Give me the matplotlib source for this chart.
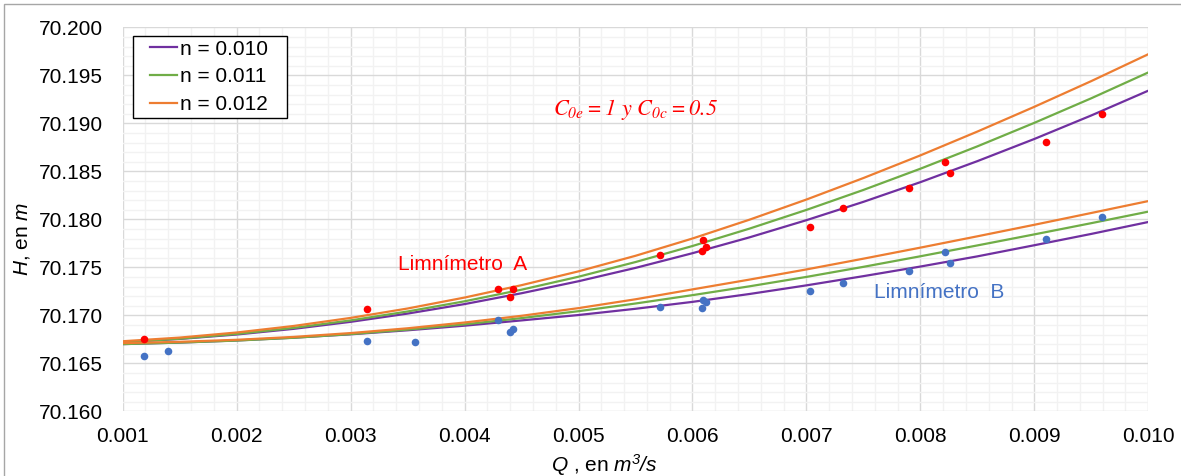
import matplotlib
matplotlib.use("Agg")
import matplotlib.pyplot as plt
from matplotlib.patches import Rectangle
import numpy as np

plt.rcParams['font.family'] = ['Liberation Sans', 'DejaVu Sans']
plt.rcParams['mathtext.fontset'] = 'custom'
plt.rcParams['mathtext.it'] = 'STIXGeneral:italic'
plt.rcParams['mathtext.rm'] = 'STIXGeneral:italic'
plt.rcParams['mathtext.sf'] = 'Liberation Sans:italic'

# caudal Q (m3/s) donde se leen las curvas teoricas
q_curve = [0.0010, 0.0015, 0.0020, 0.0025, 0.0030, 0.0035, 0.0040, 0.0045, 0.0050, 0.0055,
           0.0060, 0.0065, 0.0070, 0.0075, 0.0080, 0.0085, 0.0090, 0.0095, 0.0100]

# Limnimetro A (curvas superiores)
h_a_010 = [70.16720, 70.16754, 70.16800, 70.16859, 70.16932, 70.17018, 70.17117, 70.17230, 70.17355, 70.17494,
           70.17647, 70.17812, 70.17991, 70.18182, 70.18387, 70.18606, 70.18837, 70.19082, 70.19340]
h_a_011 = [70.16720, 70.16756, 70.16806, 70.16869, 70.16947, 70.17040, 70.17146, 70.17267, 70.17402, 70.17555,
           70.17722, 70.17903, 70.18098, 70.18306, 70.18527, 70.18760, 70.19005, 70.19261, 70.19530]
h_a_012 = [70.16730, 70.16768, 70.16821, 70.16889, 70.16973, 70.17071, 70.17185, 70.17314, 70.17458, 70.17620,
           70.17800, 70.17996, 70.18206, 70.18430, 70.18666, 70.18914, 70.19172, 70.19440, 70.19720]

# Limnimetro B (curvas inferiores)
h_b_010 = [70.16700, 70.16716, 70.16738, 70.16767, 70.16802, 70.16844, 70.16892, 70.16947, 70.17003, 70.17068,
           70.17140, 70.17222, 70.17312, 70.17408, 70.17508, 70.17614, 70.17730, 70.17848, 70.17972]
h_b_011 = [70.16700, 70.16716, 70.16737, 70.16766, 70.16804, 70.16851, 70.16906, 70.16971, 70.17043, 70.17123,
           70.17210, 70.17302, 70.17400, 70.17505, 70.17615, 70.17728, 70.17843, 70.17960, 70.18080]
h_b_012 = [70.16710, 70.16724, 70.16745, 70.16775, 70.16815, 70.16865, 70.16925, 70.16995, 70.17075, 70.17167,
           70.17270, 70.17372, 70.17478, 70.17590, 70.17705, 70.17823, 70.17943, 70.18066, 70.18190]

# puntos medidos
q_a = [0.001189, 0.003143, 0.004295, 0.004395, 0.004421, 0.005719, 0.006090, 0.006082, 0.006119,
       0.007032, 0.007325, 0.007904, 0.008216, 0.008260, 0.009099, 0.009596]
h_a = [70.16750, 70.17063, 70.17274, 70.17191, 70.17274, 70.17631, 70.17781, 70.17673, 70.17708,
       70.17917, 70.18115, 70.18329, 70.18600, 70.18485, 70.18802, 70.19094]
q_b = [0.001189, 0.001400, 0.003143, 0.003564, 0.004295, 0.004395, 0.004421, 0.005719, 0.006090,
       0.006119, 0.006082, 0.007032, 0.007325, 0.007904, 0.008216, 0.008260, 0.009099, 0.009596]
h_b = [70.16576, 70.16631, 70.16735, 70.16725, 70.16948, 70.16829, 70.16854, 70.17086, 70.17163,
       70.17135, 70.17076, 70.17253, 70.17336, 70.17465, 70.17656, 70.17548, 70.17792, 70.18021]

labels = ["n = 0.010", "n = 0.011", "n = 0.012"]
colors = ["#7030A0", "#70AD47", "#ED7D31"]

fig = plt.figure(figsize=(11.81, 4.76), dpi=100)
ax = fig.add_axes([0.1039, 0.1359, 0.8684, 0.8067])

for h, c, lab in zip([h_a_010, h_a_011, h_a_012], colors, labels):
    ax.plot(q_curve, h, color=c, lw=1.6, label=lab, zorder=3)
for h, c in zip([h_b_010, h_b_011, h_b_012], colors):
    ax.plot(q_curve, h, color=c, lw=1.6, zorder=3)

ax.scatter(q_a, h_a, s=30, color="#FF0000", zorder=4, linewidths=0)
ax.scatter(q_b, h_b, s=30, color="#4472C4", zorder=4, linewidths=0)

ax.set_xlim(0.001, 0.010)
ax.set_ylim(70.160, 70.200)
ax.set_xticks(np.arange(0.001, 0.01001, 0.001))
ax.set_xticks(np.arange(0.001, 0.01001, 0.0002), minor=True)
ax.set_yticks(np.arange(70.160, 70.2001, 0.005))
ax.set_yticks(np.arange(70.160, 70.2001, 0.001), minor=True)
ax.xaxis.set_major_formatter(matplotlib.ticker.FormatStrFormatter('%.3f'))
ax.yaxis.set_major_formatter(matplotlib.ticker.FormatStrFormatter('%.3f'))
ax.tick_params(which='both', length=0, labelsize=15)
ax.tick_params(axis='y', pad=14)
ax.tick_params(axis='x', pad=11)
ax.grid(which='minor', color='#F2F2F2', lw=1.0, zorder=0)
ax.grid(which='major', color='#D9D9D9', lw=1.0, zorder=1)
ax.set_axisbelow(True)
for s in ax.spines.values():
    s.set_visible(False)

ax.set_xlabel(r'$\mathsf{Q}$ , en $\mathsf{m^{3}/s}$', fontsize=15, va='center')
ax.set_ylabel(r'$\mathsf{H}$, en $\mathsf{m}$', fontsize=15, va='center')
ax.xaxis.set_label_coords(0.47, -0.140)
ax.yaxis.set_label_coords(-0.0982, 0.45)

ax.text(0.0055, 70.19139, r'$C_{0e} = 1\ y\ C_{0c} = 0.5$', color='#FF0000',
        fontsize=16, ha='center', va='center')
ax.text(0.003985, 70.1753, 'Limnímetro  A', color='#FF0000', fontsize=15, ha='center', va='center')
ax.text(0.008165, 70.1724, 'Limnímetro  B', color='#4472C4', fontsize=15, ha='center', va='center')

# recuadro de la leyenda
ax.add_patch(Rectangle((0.00975, 0.763), 0.1502, 0.2143, transform=ax.transAxes,
                       facecolor='white', edgecolor='black', lw=1.0, zorder=4.5))
leg = ax.legend(loc='upper left', bbox_to_anchor=(0.0266, 0.968), borderaxespad=0, borderpad=0,
                fontsize=15, handlelength=1.3, handletextpad=0.12, labelspacing=0.42,
                frameon=False)
leg.set_zorder(5)

fig.patches.append(Rectangle((0.0034, -0.05), 1.1, 1.0416, transform=fig.transFigure,
                             fill=False, edgecolor='#A6A6A6', lw=1))

fig.savefig("out.png", dpi=100)
